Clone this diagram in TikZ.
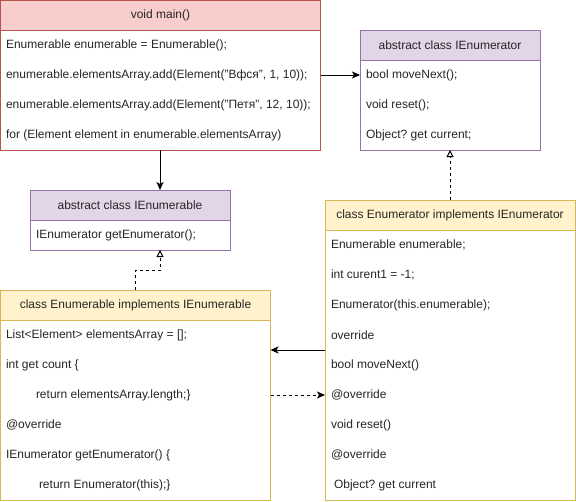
\documentclass[tikz,border=0pt]{standalone}
\usepackage{fontspec}
\setmainfont{Liberation Sans}
\usetikzlibrary{arrows.meta}
\definecolor{redfill}{HTML}{F8CECC}
\definecolor{redline}{HTML}{B85450}
\definecolor{purfill}{HTML}{E1D5E7}
\definecolor{purline}{HTML}{9673A6}
\definecolor{yelfill}{HTML}{FFF2CC}
\definecolor{yelline}{HTML}{D6B656}
\frenchspacing
\begin{document}
\frenchspacing
\begin{tikzpicture}[x=1pt,y=-1pt,
  every node/.style={font=\fontsize{12}{14}\selectfont\frenchspacing, text=black!85, inner sep=0pt, outer sep=0pt},
  hdr/.style={rectangle, line width=1pt, anchor=north west, minimum height=30pt},
  bodybox/.style={rectangle, line width=1pt, fill=white, anchor=north west},
  row/.style={anchor=west},
  solidarrow/.style={line width=1pt, -{Stealth[length=8pt,width=7pt,inset=2pt]}},
  realize/.style={line width=1pt, dash pattern=on 3pt off 3pt, -{Triangle[open,length=7pt,width=7pt,fill=white]}},
  dasharrow/.style={line width=1pt, dash pattern=on 3pt off 3pt, -{Stealth[length=8pt,width=7pt,inset=2pt]}}
]
\useasboundingbox (0,0) rectangle (576,501);

% void main()
\node[hdr, fill=redfill, draw=redline, minimum width=320pt] (mainH) at (0.5,0.5) {void main()};
\node[bodybox, draw=redline, minimum width=320pt, minimum height=120pt] (mainB) at (0.5,30) {};
\node[row] (m1) at (6,45) {Enumerable enumerable = Enumerable();};
\node[row] (m2) at (6,75) {enumerable.elementsArray.add(Element("Вфся", 1, 10));};
\node[row] (m3) at (6,105) {enumerable.elementsArray.add(Element("Петя", 12, 10));};
\node[row] (m4) at (6,135) {for (Element element in enumerable.elementsArray)};

% abstract class IEnumerator
\node[hdr, fill=purfill, draw=purline, minimum width=180pt] (ieH) at (360,30) {abstract class IEnumerator};
\node[bodybox, draw=purline, minimum width=180pt, minimum height=90pt] (ieB) at (360,60) {};
\node[row] (ie1) at (366,75) {bool moveNext();};
\node[row] (ie2) at (366,105) {void reset();};
\node[row] (ie3) at (366,135) {Object? get current;};

% abstract class IEnumerable
\node[hdr, fill=purfill, draw=purline, minimum width=200pt] (iebH) at (30,190) {abstract class IEnumerable};
\node[bodybox, draw=purline, minimum width=200pt, minimum height=30pt] (iebB) at (30,220) {};
\node[row] (ieb1) at (36,235) {IEnumerator getEnumerator();};

% class Enumerable implements IEnumerable
\node[hdr, fill=yelfill, draw=yelline, minimum width=270pt] (enH) at (0.5,290) {class Enumerable implements IEnumerable};
\node[bodybox, draw=yelline, minimum width=270pt, minimum height=180pt] (enB) at (0.5,320) {};
\node[row] (en1) at (6,335) {List<Element> elementsArray = [];};
\node[row] (en2) at (6,365) {int get count \{};
\node[row] (en3) at (36,395) {return elementsArray.length;\}};
\node[row] (en4) at (6,425) {@override};
\node[row] (en5) at (6,455) {IEnumerator getEnumerator() \{};
\node[row] (en6) at (39,485) {return Enumerator(this);\}};

% class Enumerator implements IEnumerator
\node[hdr, fill=yelfill, draw=yelline, minimum width=250pt] (etH) at (325,200) {class Enumerator implements IEnumerator};
\node[bodybox, draw=yelline, minimum width=250pt, minimum height=270pt] (etB) at (325,230) {};
\node[row] (et1) at (331,245) {Enumerable enumerable;};
\node[row] (et2) at (331,275) {int curent1 = -1;};
\node[row] (et3) at (331,305) {Enumerator(this.enumerable);};
\node[row] (et4) at (331,335) {override};
\node[row] (et5) at (331,365) {bool moveNext()};
\node[row] (et6) at (331,395) {@override};
\node[row] (et7) at (331,425) {void reset()};
\node[row] (et8) at (331,455) {@override};
\node[row] (et9) at (334,485) {Object? get current};

% connectors
\draw[solidarrow] (m2 -| mainB.east) -- (ie1 -| ieB.west);
\coordinate (kx) at (160,170);
\draw[solidarrow] (mainB.south -| kx) -- (iebH.north -| kx);
\coordinate (k) at (160,270);
\draw[realize] (enH.north) |- (k) -- (k |- iebB.south);
\draw[realize] (etH.north) -- (ieB.south);
\coordinate (c1) at (0,350);
\draw[solidarrow] (etB.west |- c1) -- (enB.east |- c1);
\draw[dasharrow] (en3 -| enB.east) -- (et6 -| etB.west);
\end{tikzpicture}
\end{document}
